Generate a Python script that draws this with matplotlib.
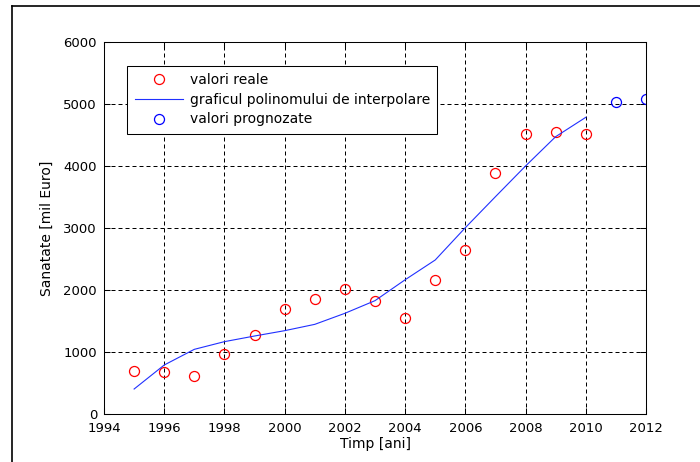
import numpy as np
import matplotlib
matplotlib.use("Agg")
import matplotlib.pyplot as plt
from matplotlib.lines import Line2D

plt.rcParams['font.family'] = ['DejaVu Sans']

# date
ani = [1995, 1996, 1997, 1998, 1999, 2000, 2001, 2002,
       2003, 2004, 2005, 2006, 2007, 2008, 2009, 2010]
valori_reale = [694, 675, 615, 970, 1270, 1694, 1852, 2010,
                1815, 1552, 2155, 2645, 3880, 4520, 4555, 4515]
polinom = [403, 790, 1043, 1167, 1258, 1344, 1446, 1624,
           1828, 2165, 2484, 3005, 3505, 4000, 4473, 4785]
ani_prog = [2011, 2012]
valori_prog = [5038, 5075]

xticks = list(range(1994, 2013, 2))
yticks = list(range(0, 6001, 1000))

fig = plt.figure(figsize=(7, 4.62), dpi=100)
ax = fig.add_axes([104/700, 1-414/462, 542/700, 372/462])

ax.plot(ani, valori_reale, 'o', mfc='none', mec='red', ms=7.2, mew=0.9,
        label='valori reale')
ax.plot(ani, polinom, '-', color='#2030ff', lw=0.8,
        label='graficul polinomului de interpolare')
ax.plot(ani_prog, valori_prog, 'o', mfc='none', mec='blue', ms=7.2, mew=0.9,
        label='valori prognozate')

ax.set_xlim(1994, 2012)
ax.set_ylim(0, 6000)
ax.set_xticks(xticks)
ax.set_yticks(yticks)
ax.tick_params(direction='in', length=4, width=0.75, top=True, right=True,
               labelsize=9.5)
ax.tick_params(axis='x', pad=6)
ax.tick_params(axis='y', pad=5)
ax.grid(True, color='black', lw=0.72, linestyle=(0, (4, 3)))
for s in ax.spines.values():
    s.set_linewidth(0.75)

ax.set_xlabel('Timp [ani]', fontsize=10, labelpad=1.5)
ax.set_ylabel('Sanatate [mil Euro]', fontsize=10, labelpad=7)

leg = ax.legend(loc='upper left', bbox_to_anchor=(23/542, 1-23.7/372),
                borderaxespad=0, fancybox=False, fontsize=10,
                handlelength=3.5, handletextpad=0.45, labelspacing=0.4,
                borderpad=0.55)
leg.get_frame().set_edgecolor('black')
leg.get_frame().set_linewidth(0.75)
leg.get_frame().set_alpha(1)

# chenarul figurii (stanga si sus)
fig.add_artist(Line2D([11.5/700, 11.5/700], [-0.1, 1-5.5/462], color='black', lw=1.2))
fig.add_artist(Line2D([11.5/700, 1.1], [1-5.5/462, 1-5.5/462], color='black', lw=1.2))

fig.savefig('out.png', dpi=100)
